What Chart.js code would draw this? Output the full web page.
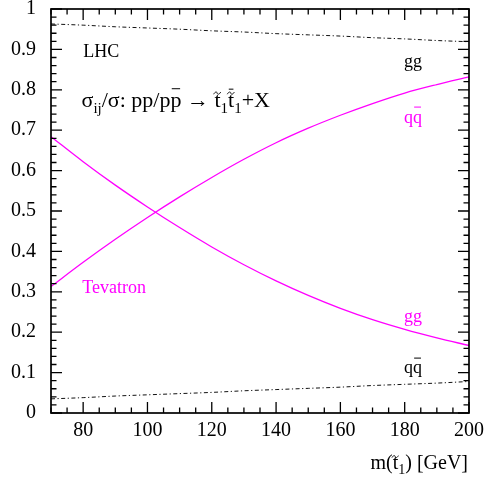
<!DOCTYPE html>
<html>
<head>
<meta charset="utf-8">
<script src="https://cdn.jsdelivr.net/npm/chart.js@4.4.0/dist/chart.umd.min.js"></script>
<style>
  html, body { margin: 0; padding: 0; background: #fff; }
  #wrap { width: 485px; height: 480px; }
</style>
</head>
<body>
<div id="wrap"><canvas id="c" width="485" height="480"></canvas></div>
<script>
// Stop mass m(t1) in GeV
const masses = [70, 80, 90, 100, 110, 120, 130, 140, 150, 160, 170, 180, 190, 200];
// Fraction of the total cross section per initial state
const tevatronQQ = [0.313, 0.373, 0.430, 0.484, 0.535, 0.583, 0.628, 0.669, 0.705, 0.737, 0.766, 0.792, 0.813, 0.832];
const tevatronGG = [0.684, 0.622, 0.564, 0.510, 0.459, 0.411, 0.367, 0.327, 0.291, 0.259, 0.231, 0.207, 0.186, 0.167];
const lhcGG = [0.963, 0.960, 0.956, 0.953, 0.950, 0.946, 0.943, 0.939, 0.936, 0.933, 0.929, 0.926, 0.922, 0.919];
const lhcQQ = [0.035, 0.038, 0.042, 0.045, 0.048, 0.051, 0.055, 0.058, 0.061, 0.064, 0.068, 0.071, 0.074, 0.078];
// Axis tick labels
const xTicks = [80, 100, 120, 140, 160, 180, 200];
const yTicks = [0, 0.1, 0.2, 0.3, 0.4, 0.5, 0.6, 0.7, 0.8, 0.9, 1];

const FONT = '"Liberation Serif", "Times New Roman", serif';
const MAGENTA = '#ff00ff';

function pts(ys) { return masses.map((m, i) => ({ x: m, y: ys[i] })); }

// Draw a run of text pieces with optional subscripts, overbars and tildes.
function richText(ctx, parts, x, y, align, color) {
  const widths = parts.map(p => {
    ctx.font = p.size + 'px ' + FONT;
    return ctx.measureText(p.t).width;
  });
  const total = widths.reduce((a, b) => a + b, 0);
  let cx = align === 'right' ? x - total : x;
  ctx.fillStyle = color;
  ctx.strokeStyle = color;
  ctx.textBaseline = 'alphabetic';
  ctx.textAlign = 'left';
  parts.forEach((p, i) => {
    const w = widths[i];
    const by = y + (p.dy || 0);
    ctx.font = p.size + 'px ' + FONT;
    ctx.fillText(p.t, cx, by);
    if (p.bar) {
      const h = by - p.size * p.bar;
      ctx.lineWidth = 1;
      ctx.beginPath();
      ctx.moveTo(cx + w * 0.12, h);
      ctx.lineTo(cx + w * 0.88, h);
      ctx.stroke();
    }
    if (p.tilde) {
      const h = by - p.size * p.tilde;
      const mx = cx + w * 0.45, hw = p.size * 0.16, a = p.size * 0.05;
      ctx.lineWidth = 0.9;
      ctx.beginPath();
      ctx.moveTo(mx - hw, h + a);
      ctx.bezierCurveTo(mx - hw * 0.5, h - a * 2, mx, h - a, mx, h);
      ctx.bezierCurveTo(mx, h + a, mx + hw * 0.5, h + a * 2, mx + hw, h - a);
      ctx.stroke();
    }
    cx += w;
  });
}

const frameAndLabels = {
  id: 'frameAndLabels',
  afterDraw(chart) {
    const { ctx, chartArea: a, scales: { x, y } } = chart;
    ctx.save();
    // inward ticks on all four sides
    ctx.strokeStyle = '#000';
    ctx.lineWidth = 1.3;
    ctx.beginPath();
    for (let v = 70; v <= 200; v += 5) {
      const px = x.getPixelForValue(v);
      const len = v % 20 === 0 ? 11 : 5.5;
      ctx.moveTo(px, a.bottom); ctx.lineTo(px, a.bottom - len);
      ctx.moveTo(px, a.top); ctx.lineTo(px, a.top + len);
    }
    for (let i = 0; i <= 50; i++) {
      const py = y.getPixelForValue(i / 50);
      const len = i % 5 === 0 ? 11 : 5.5;
      ctx.moveTo(a.left, py); ctx.lineTo(a.left + len, py);
      ctx.moveTo(a.right, py); ctx.lineTo(a.right - len, py);
    }
    ctx.stroke();
    ctx.lineWidth = 1.7;
    ctx.strokeRect(a.left, a.top, a.right - a.left, a.bottom - a.top);

    const X = v => x.getPixelForValue(v);
    const Y = v => y.getPixelForValue(v);

    richText(ctx, [{ t: 'LHC', size: 18 }], X(80), Y(0.881), 'left', '#000');
    richText(ctx, [
      { t: 'σ', size: 22 },
      { t: 'ij', size: 15, dy: 6 },
      { t: '/σ: pp/p', size: 22 },
      { t: 'p', size: 22, bar: 0.82 },
      { t: ' → ', size: 22 },
      { t: 't', size: 22, tilde: 0.62 },
      { t: '1', size: 15, dy: 6 },
      { t: 't', size: 22, tilde: 0.62, bar: 0.8 },
      { t: '1', size: 15, dy: 6 },
      { t: '+X', size: 22 }
    ], X(79.5), Y(0.758), 'left', '#000');

    richText(ctx, [{ t: 'gg', size: 18 }], X(179.8), Y(0.856), 'left', '#000');
    richText(ctx, [{ t: 'q', size: 18 }, { t: 'q', size: 18, bar: 0.88 }], X(179.8), Y(0.718), 'left', MAGENTA);
    richText(ctx, [{ t: 'Tevatron', size: 18 }], X(79.7), Y(0.298), 'left', MAGENTA);
    richText(ctx, [{ t: 'gg', size: 18 }], X(179.8), Y(0.226), 'left', MAGENTA);
    richText(ctx, [{ t: 'q', size: 18 }, { t: 'q', size: 18, bar: 0.85 }], X(179.8), Y(0.098), 'left', '#000');

    // x-axis title, right aligned under the frame
    richText(ctx, [
      { t: 'm(', size: 20 },
      { t: 't', size: 20, tilde: 0.62 },
      { t: '1', size: 14, dy: 5 },
      { t: ') [GeV]', size: 20 }
    ], a.right - 1, a.bottom + 56, 'right', '#000');
    ctx.restore();
  }
};

new Chart(document.getElementById('c'), {
  type: 'line',
  data: {
    datasets: [
      { label: 'Tevatron qq', data: pts(tevatronQQ), borderColor: MAGENTA, borderWidth: 1.3 },
      { label: 'Tevatron gg', data: pts(tevatronGG), borderColor: MAGENTA, borderWidth: 1.3 },
      { label: 'LHC gg', data: pts(lhcGG), borderColor: '#111', borderWidth: 1, borderDash: [4, 2.5, 1.2, 2.5] },
      { label: 'LHC qq', data: pts(lhcQQ), borderColor: '#111', borderWidth: 1, borderDash: [4, 2.5, 1.2, 2.5] }
    ]
  },
  options: {
    responsive: false,
    animation: false,
    devicePixelRatio: 1,
    layout: { padding: { top: 9, right: 16, left: 0, bottom: 0 } },
    elements: {
      point: { radius: 0, hoverRadius: 0 },
      line: { tension: 0, cubicInterpolationMode: 'monotone', fill: false }
    },
    plugins: { legend: { display: false }, tooltip: { enabled: false } },
    scales: {
      x: {
        type: 'linear',
        min: 70, max: 200,
        grid: { display: false, drawTicks: false },
        border: { display: false },
        afterBuildTicks: s => { s.ticks = xTicks.map(v => ({ value: v })); },
        afterFit: s => { s.height = 67; s.paddingLeft = 0; s.paddingRight = 0; },
        ticks: {
          color: '#000', padding: 6, maxRotation: 0, autoSkip: false,
          font: { family: FONT, size: 20 },
          callback: v => String(v)
        }
      },
      y: {
        type: 'linear',
        min: 0, max: 1,
        grid: { display: false, drawTicks: false },
        border: { display: false },
        afterBuildTicks: s => { s.ticks = yTicks.map(v => ({ value: v })); },
        afterFit: s => { s.width = 51; s.paddingTop = 0; s.paddingBottom = 0; },
        ticks: {
          color: '#000', padding: 15, autoSkip: false,
          font: { family: FONT, size: 20 },
          callback: v => String(v)
        }
      }
    }
  },
  plugins: [frameAndLabels]
});
</script>
</body>
</html>
